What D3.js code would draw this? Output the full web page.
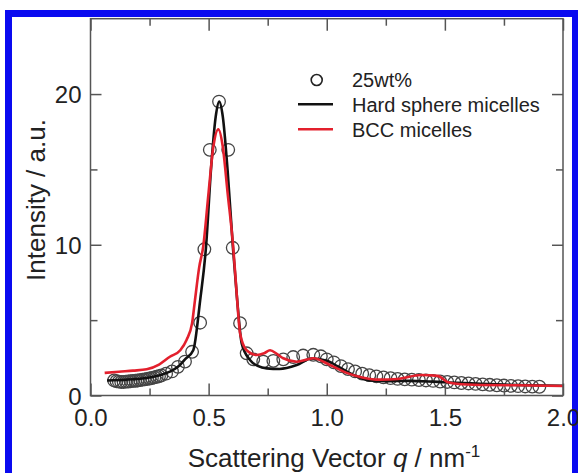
<!DOCTYPE html>
<html>
<head>
<meta charset="utf-8">
<script src="https://cdn.jsdelivr.net/npm/d3@7"></script>
<style>
  html, body { margin: 0; padding: 0; background: #fff; }
  svg { display: block; font-family: "Liberation Sans", Arial, Helvetica, sans-serif; }
</style>
</head>
<body>
<svg id="chart" width="578" height="473"></svg>
<script>
// Measured SAXS profile (25 wt%), scattering vector q in nm^-1
const measuredQ = [0.10,0.11,0.12,0.13,0.14,0.15,0.16,0.17,0.18,0.19,0.20,0.21,0.22,0.23,0.24,0.25,0.26,0.27,0.28,0.29,0.30,
  0.32,0.345,0.37,0.40,0.43,0.464,0.482,0.505,0.544,0.583,0.602,0.633,0.661,0.689,0.731,0.774,0.816,0.858,0.90,0.943,0.975,
  1.00,1.03,1.06,1.09,1.12,1.15,1.18,1.21,1.24,1.27,1.30,1.33,1.36,1.39,1.42,1.45,1.48,1.51,1.54,1.57,1.60,1.63,1.66,1.69,
  1.72,1.75,1.78,1.81,1.84,1.87,1.90];
const measuredI = [1.00,0.95,0.92,0.90,0.90,0.92,0.93,0.95,0.97,0.98,1.00,1.02,1.05,1.07,1.10,1.13,1.16,1.20,1.24,1.28,1.33,
  1.45,1.60,1.90,2.25,2.90,4.83,9.70,16.3,19.5,16.3,9.80,4.80,2.80,2.40,2.25,2.30,2.40,2.55,2.65,2.70,2.60,
  2.40,2.20,1.95,1.75,1.60,1.45,1.35,1.27,1.20,1.15,1.10,1.07,1.05,1.03,1.00,0.97,0.93,0.90,0.87,0.83,0.80,0.77,0.74,0.71,
  0.68,0.66,0.64,0.62,0.60,0.59,0.58];

// Hard sphere micelle model
const hardSphereQ = [0.07,0.15,0.20,0.25,0.30,0.336,0.37,0.40,0.435,0.464,0.489,0.51,0.53,0.545,0.56,0.58,0.603,0.62,0.64,
  0.675,0.71,0.746,0.80,0.873,0.935,1.00,1.05,1.084,1.13,1.18,1.25,1.35,1.45,1.55,1.65,1.75,1.85,2.00];
const hardSphereI = [1.00,1.05,1.10,1.20,1.38,1.58,1.90,2.40,3.00,6.30,9.87,15.0,18.5,19.5,18.5,15.0,9.80,6.50,3.46,
  2.36,1.95,1.80,1.76,2.02,2.45,2.30,1.90,1.60,1.25,1.00,0.95,0.97,0.92,0.84,0.78,0.72,0.68,0.65];

// BCC micelle model
const bccQ = [0.06,0.12,0.18,0.238,0.29,0.336,0.38,0.407,0.43,0.442,0.46,0.477,0.50,0.52,0.541,0.56,0.58,0.604,0.62,0.633,
  0.661,0.703,0.735,0.76,0.79,0.816,0.873,0.943,1.014,1.084,1.15,1.225,1.30,1.40,1.47,1.51,1.55,1.65,1.80,2.00];
const bccI = [1.50,1.58,1.65,1.74,2.05,2.57,3.00,3.70,4.80,6.30,8.50,9.87,13.5,16.5,17.66,16.5,13.5,9.87,6.50,4.13,
  3.00,2.69,2.80,3.00,2.75,2.47,2.24,2.47,2.02,1.50,1.20,1.05,1.10,1.36,1.30,0.90,0.78,0.70,0.68,0.63];

const xTicks = [0, 0.5, 1.0, 1.5, 2.0];
const xMinorTicks = [0.25, 0.75, 1.25, 1.75];
const yTicks = [0, 10, 20];
const yMinorTicks = [5, 15];
const legendLabels = ["25wt%", "Hard sphere micelles", "BCC micelles"];

const svg = d3.select("#chart");
const plotLeft = 90.5, plotRight = 563, plotTop = 18.7, plotBottom = 395.5;

const x = d3.scaleLinear().domain([0, 2]).range([plotLeft, plotRight]);
const y = d3.scaleLinear().domain([0, 25]).range([plotBottom, plotTop]);

const axisColor = "#555";

// Frame border
svg.append("rect")
  .attr("x", 8.5).attr("y", 13.5)
  .attr("width", 567).attr("height", 480)
  .attr("fill", "none").attr("stroke", "#0a0af0").attr("stroke-width", 7);

const plot = svg.append("g");

// Data markers
const pts = measuredQ.map((q, i) => [q, measuredI[i]]);
plot.append("g").selectAll("circle").data(pts).join("circle")
  .attr("cx", d => x(d[0])).attr("cy", d => y(d[1])).attr("r", 6.3)
  .attr("fill", "none").attr("stroke", "#444").attr("stroke-width", 1.3);

const line = d3.line().x(d => x(d[0])).y(d => y(d[1])).curve(d3.curveMonotoneX);

plot.append("path")
  .datum(hardSphereQ.map((q, i) => [q, hardSphereI[i]]))
  .attr("d", line).attr("fill", "none").attr("stroke", "#111").attr("stroke-width", 2.6);

plot.append("path")
  .datum(bccQ.map((q, i) => [q, bccI[i]]))
  .attr("d", line).attr("fill", "none").attr("stroke", "#e3202d").attr("stroke-width", 2.6);

// Axes: ticks pointing inward on all four sides
function styleAxis(g) {
  g.select(".domain").remove();
  g.selectAll(".tick line").attr("stroke", axisColor).attr("stroke-width", 1.5);
}

svg.append("g").attr("transform", `translate(0,${plotBottom})`)
  .call(d3.axisBottom(x).tickValues(xTicks).tickSize(-12).tickFormat(d3.format(".1f")))
  .call(styleAxis)
  .call(g => g.selectAll("text").attr("fill", "#222").attr("font-size", 24).attr("y", 0).attr("dy", "1.25em"));
svg.append("g").attr("transform", `translate(0,${plotBottom})`)
  .call(d3.axisBottom(x).tickValues(xMinorTicks).tickSize(-7).tickFormat(""))
  .call(styleAxis);
svg.append("g").attr("transform", `translate(0,${plotTop})`)
  .call(d3.axisTop(x).tickValues(xTicks).tickSize(-12).tickFormat(""))
  .call(styleAxis);
svg.append("g").attr("transform", `translate(0,${plotTop})`)
  .call(d3.axisTop(x).tickValues(xMinorTicks).tickSize(-7).tickFormat(""))
  .call(styleAxis);

svg.append("g").attr("transform", `translate(${plotLeft},0)`)
  .call(d3.axisLeft(y).tickValues(yTicks).tickSize(-11).tickFormat(d3.format("d")))
  .call(styleAxis)
  .call(g => g.selectAll("text").attr("fill", "#222").attr("font-size", 24).attr("x", -9).attr("dy", "0.36em"));
svg.append("g").attr("transform", `translate(${plotLeft},0)`)
  .call(d3.axisLeft(y).tickValues(yMinorTicks).tickSize(-7).tickFormat(""))
  .call(styleAxis);
svg.append("g").attr("transform", `translate(${plotRight},0)`)
  .call(d3.axisRight(y).tickValues(yTicks).tickSize(-11).tickFormat(""))
  .call(styleAxis);
svg.append("g").attr("transform", `translate(${plotRight},0)`)
  .call(d3.axisRight(y).tickValues(yMinorTicks).tickSize(-7).tickFormat(""))
  .call(styleAxis);

// Plot frame
svg.append("rect")
  .attr("x", plotLeft).attr("y", plotTop).attr("width", plotRight - plotLeft).attr("height", plotBottom - plotTop)
  .attr("fill", "none").attr("stroke", axisColor).attr("stroke-width", 1.5);

// Axis titles
svg.append("text")
  .attr("transform", `translate(45,200) rotate(-90)`)
  .attr("text-anchor", "middle").attr("font-size", 26).attr("fill", "#222")
  .text("Intensity / a.u.");

const xt = svg.append("text")
  .attr("x", 334).attr("y", 467)
  .attr("text-anchor", "middle").attr("font-size", 26).attr("fill", "#222");
xt.append("tspan").text("Scattering Vector ");
xt.append("tspan").attr("font-style", "italic").text("q");
xt.append("tspan").text(" / nm");
xt.append("tspan").attr("font-size", 17).attr("dy", -10).text("-1");

// Legend
const lg = svg.append("g");
lg.append("circle").attr("cx", 316.7).attr("cy", 80).attr("r", 5.5)
  .attr("fill", "none").attr("stroke", "#222").attr("stroke-width", 1.6);
lg.append("line").attr("x1", 298).attr("x2", 333).attr("y1", 104.3).attr("y2", 104.3)
  .attr("stroke", "#111").attr("stroke-width", 2.6);
lg.append("line").attr("x1", 298).attr("x2", 333).attr("y1", 129.3).attr("y2", 129.3)
  .attr("stroke", "#e3202d").attr("stroke-width", 2.6);
[80, 104.3, 129.3].forEach((cy, i) => {
  lg.append("text").attr("x", 352).attr("y", cy).attr("dy", "0.36em")
    .attr("font-size", 20).attr("fill", "#222").text(legendLabels[i]);
});
</script>
</body>
</html>
